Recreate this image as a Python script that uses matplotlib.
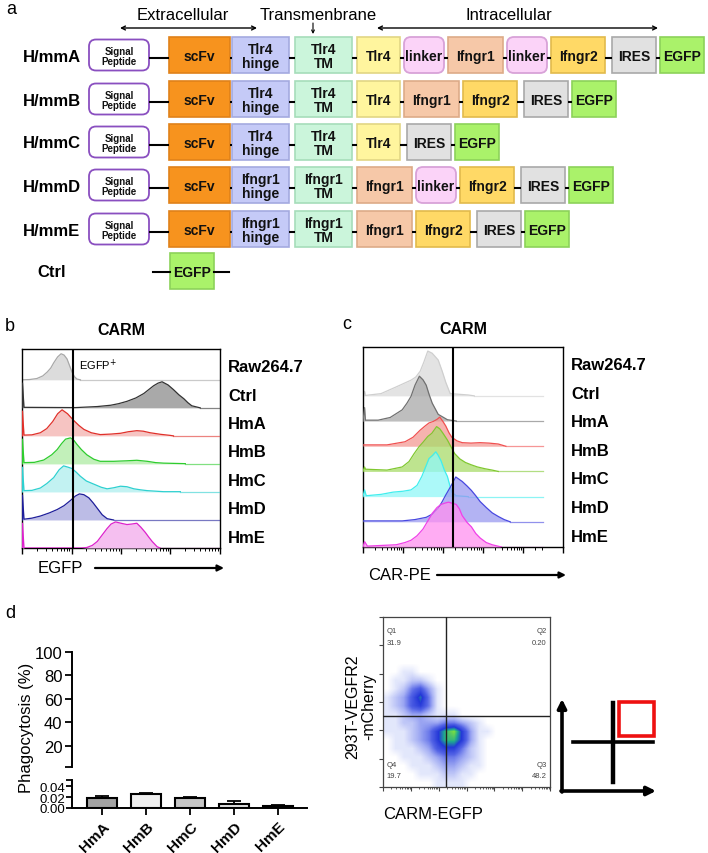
import numpy as np
import matplotlib.pyplot as plt
from matplotlib.patches import FancyBboxPatch, Rectangle
from matplotlib.colors import LinearSegmentedColormap

plt.rcParams['font.family'] = ['Liberation Sans', 'DejaVu Sans']

# ---------------- data ----------------
# panel a: construct layouts
row_names = ["H/mmA", "H/mmB", "H/mmC", "H/mmD", "H/mmE", "Ctrl"]
ext_tlr4 = ["Signal\nPeptide", "scFv", "Tlr4\nhinge", "Tlr4\nTM"]
ext_ifngr1 = ["Signal\nPeptide", "scFv", "Ifngr1\nhinge", "Ifngr1\nTM"]
intra_a = ["Tlr4", "linker", "Ifngr1", "linker", "Ifngr2", "IRES", "EGFP"]
intra_b = ["Tlr4", "Ifngr1", "Ifngr2", "IRES", "EGFP"]
intra_c = ["Tlr4", "IRES", "EGFP"]
intra_d = ["Ifngr1", "linker", "Ifngr2", "IRES", "EGFP"]
intra_e = ["Ifngr1", "Ifngr2", "IRES", "EGFP"]
ctrl_construct = ["EGFP"]

# panels b / c: histogram samples (top to bottom)
samples = ["Raw264.7", "Ctrl", "HmA", "HmB", "HmC", "HmD", "HmE"]

# EGFP histograms (x in decades, h relative to mode)
egfp_x = [
    [0.0, 0.15, 0.3, 0.42, 0.51, 0.58, 0.64, 0.72, 0.79, 0.85, 0.91, 0.96, 1.01, 1.06, 1.11, 1.18],
    [0.01, 0.01, 0.04, 1.08, 1.3, 1.52, 1.79, 1.95, 2.12, 2.3, 2.46, 2.56, 2.66, 2.75, 2.83, 2.95, 3.06, 3.17, 3.27, 3.35, 3.43, 3.6],
    [0.01, 0.01, 0.04, 0.2, 0.37, 0.5, 0.62, 0.72, 0.81, 0.92, 1.04, 1.15, 1.25, 1.4, 1.58, 1.8, 1.99, 2.15, 2.32, 2.45, 2.59, 2.8, 2.99, 3.06],
    [0.01, 0.01, 0.04, 0.25, 0.44, 0.6, 0.71, 0.8, 0.88, 0.98, 1.05, 1.11, 1.2, 1.31, 1.45, 1.58, 1.85, 2.12, 2.32, 2.53, 2.7, 2.86, 3.3],
    [0.01, 0.01, 0.04, 0.2, 0.37, 0.5, 0.64, 0.75, 0.84, 0.93, 1.01, 1.1, 1.18, 1.3, 1.45, 1.6, 1.72, 1.85, 1.99, 2.12, 2.26, 2.4, 2.53, 2.86, 3.2],
    [0.01, 0.01, 0.04, 0.2, 0.37, 0.55, 0.71, 0.85, 0.98, 1.08, 1.16, 1.25, 1.35, 1.44, 1.52, 1.62, 1.72, 1.85],
    [0.01, 0.01, 0.04, 1.2, 1.31, 1.42, 1.52, 1.62, 1.72, 1.8, 1.89, 2.0, 2.12, 2.22, 2.32, 2.4, 2.49, 2.56, 2.63, 2.73, 2.79],
]
egfp_h = [
    [0, 0.01, 0.05, 0.15, 0.3, 0.45, 0.65, 0.88, 1.0, 0.95, 0.8, 0.55, 0.3, 0.12, 0.03, 0],
    [0, 0.95, 0.02, 0.01, 0.03, 0.05, 0.1, 0.16, 0.25, 0.38, 0.55, 0.7, 0.85, 0.95, 1.0, 0.88, 0.7, 0.5, 0.35, 0.2, 0.08, 0],
    [0, 0.95, 0.03, 0.04, 0.12, 0.28, 0.55, 0.85, 1.0, 0.85, 0.6, 0.4, 0.25, 0.12, 0.05, 0.07, 0.1, 0.16, 0.2, 0.18, 0.12, 0.06, 0.02, 0],
    [0, 0.95, 0.05, 0.06, 0.15, 0.35, 0.55, 0.78, 0.95, 1.0, 0.9, 0.75, 0.55, 0.35, 0.18, 0.1, 0.1, 0.12, 0.14, 0.1, 0.05, 0.03, 0.01],
    [0, 0.95, 0.05, 0.06, 0.15, 0.32, 0.55, 0.85, 1.0, 0.95, 0.9, 0.75, 0.6, 0.42, 0.3, 0.18, 0.12, 0.16, 0.22, 0.2, 0.12, 0.08, 0.05, 0.01, 0.01],
    [0, 0.95, 0.03, 0.07, 0.15, 0.27, 0.4, 0.55, 0.75, 0.92, 1.0, 0.97, 0.85, 0.65, 0.45, 0.2, 0.05, 0],
    [0, 0.95, 0, 0, 0.02, 0.1, 0.25, 0.5, 0.75, 0.92, 1.0, 0.95, 0.9, 0.92, 0.95, 0.8, 0.6, 0.42, 0.25, 0.05, 0],
]
egfp_gate = 1.04

# CAR-PE histograms
carpe_x = [
    [0.0, 0.04, 0.06, 0.45, 0.83, 1.2, 1.32, 1.43, 1.52, 1.62, 1.73, 1.8, 1.88, 1.98, 2.07, 2.18, 2.63, 2.78],
    [0.0, 0.04, 0.06, 0.38, 0.68, 0.98, 1.1, 1.2, 1.3, 1.41, 1.5, 1.58, 1.65, 1.73, 1.88, 2.11, 2.33],
    [0.0, 0.6, 1.05, 1.25, 1.43, 1.55, 1.65, 1.75, 1.85, 1.92, 2.0, 2.07, 2.15, 2.22, 2.35, 2.48, 2.7, 2.93, 3.15, 3.38, 3.57],
    [0.0, 0.04, 0.06, 0.6, 0.98, 1.15, 1.28, 1.4, 1.5, 1.62, 1.72, 1.84, 1.92, 2.0, 2.11, 2.2, 2.29, 2.42, 2.56, 2.7, 2.86, 3.05, 3.23, 3.38],
    [0.0, 0.04, 0.08, 0.45, 0.75, 1.0, 1.2, 1.35, 1.47, 1.56, 1.65, 1.74, 1.82, 1.88, 1.95, 2.03, 2.11, 2.17, 2.22, 2.33, 2.63],
    [0.0, 0.08, 0.98, 1.3, 1.58, 1.75, 1.88, 1.98, 2.07, 2.2, 2.32, 2.4, 2.48, 2.6, 2.71, 2.82, 2.93, 3.08, 3.23, 3.38, 3.53, 3.68],
    [0.0, 0.04, 0.11, 0.83, 1.05, 1.2, 1.35, 1.5, 1.62, 1.73, 1.85, 1.95, 2.05, 2.14, 2.25, 2.33, 2.41, 2.48, 2.6, 2.71, 2.82, 2.93, 3.08, 3.23, 3.46],
]
carpe_h = [
    [0, 0.1, 0.01, 0.05, 0.2, 0.35, 0.42, 0.55, 0.75, 1.0, 0.95, 0.88, 0.8, 0.55, 0.3, 0.05, 0.02, 0],
    [0, 0.3, 0.02, 0.02, 0.08, 0.25, 0.4, 0.55, 0.8, 1.0, 0.92, 0.8, 0.6, 0.4, 0.15, 0.03, 0],
    [0.03, 0.03, 0.1, 0.2, 0.36, 0.45, 0.52, 0.55, 0.6, 0.65, 0.55, 0.45, 0.3, 0.2, 0.12, 0.08, 0.07, 0.08, 0.07, 0.05, 0],
    [0, 0.1, 0.05, 0.03, 0.1, 0.22, 0.4, 0.55, 0.65, 0.78, 0.85, 1.0, 0.95, 0.85, 0.7, 0.55, 0.4, 0.28, 0.2, 0.15, 0.1, 0.06, 0.03, 0],
    [0, 0.15, 0.02, 0.05, 0.1, 0.12, 0.15, 0.25, 0.45, 0.65, 0.85, 0.92, 1.0, 0.92, 0.8, 0.6, 0.45, 0.25, 0.1, 0.02, 0],
    [0.02, 0.02, 0.02, 0.05, 0.1, 0.18, 0.3, 0.45, 0.6, 0.8, 1.0, 0.95, 0.9, 0.8, 0.7, 0.58, 0.45, 0.32, 0.2, 0.12, 0.05, 0],
    [0, 0.12, 0.02, 0.05, 0.1, 0.15, 0.25, 0.4, 0.58, 0.75, 0.88, 0.95, 0.98, 1.0, 0.97, 0.95, 0.85, 0.7, 0.55, 0.45, 0.3, 0.2, 0.1, 0.05, 0],
]
carpe_gate = 2.26

# panel d: phagocytosis bars
bar_groups = ["HmA", "HmB", "HmC", "HmD", "HmE"]
phago_mean = [0.019, 0.026, 0.019, 0.008, 0.004]
phago_err = [0.003, 0.002, 0.001, 0.004, 0.001]

# panel d: flow density (rows top->bottom, y 0.75->0; cols x 0->0.8)
flow_density = [
    [0, 0, 0, 0, 0, 0, 0, 0, 0, 0, 0, 0, 0, 0, 0, 0],
    [0, 0, 1, 1, 0, 0, 0, 0, 0, 0, 0, 0, 0, 0, 0, 0],
    [0, 1, 1, 2, 2, 1, 0, 0, 0, 0, 0, 0, 0, 0, 0, 0],
    [0, 1, 2, 4, 5, 3, 1, 0, 0, 0, 0, 0, 0, 0, 0, 0],
    [1, 2, 3, 5, 7, 4, 1, 0, 0, 0, 0, 0, 0, 0, 0, 0],
    [1, 2, 3, 5, 6, 4, 1, 0, 0, 0, 0, 0, 0, 0, 0, 0],
    [1, 1, 2, 3, 3, 2, 1, 1, 1, 0, 0, 0, 0, 0, 0, 0],
    [1, 1, 2, 2, 3, 3, 3, 4, 4, 3, 2, 1, 0, 0, 0, 0],
    [1, 1, 1, 2, 3, 4, 6, 8, 9, 6, 3, 1, 1, 0, 0, 0],
    [0, 1, 1, 2, 3, 4, 6, 8, 8, 6, 3, 1, 0, 0, 0, 0],
    [0, 1, 1, 1, 2, 3, 5, 6, 6, 4, 2, 1, 0, 0, 0, 0],
    [0, 0, 1, 1, 1, 2, 3, 4, 4, 3, 2, 1, 0, 0, 0, 0],
    [0, 0, 0, 1, 1, 1, 2, 3, 3, 2, 1, 1, 0, 0, 0, 0],
    [0, 0, 0, 0, 1, 1, 1, 2, 2, 1, 1, 0, 0, 0, 0, 0],
    [0, 0, 0, 0, 0, 0, 1, 1, 1, 1, 0, 0, 0, 0, 0, 0],
]
gate_x, gate_y = 0.378, 0.42
quad_names = ["Q1", "Q2", "Q3", "Q4"]
quad_values = ["31.9", "0.20", "48.2", "19.7"]

# ---------------- figure ----------------
W, H = 708, 854
fig = plt.figure(figsize=(W / 100, H / 100), dpi=100)


def px_axes(x0, y0, x1, y1):
    return fig.add_axes([x0 / W, 1 - y1 / H, (x1 - x0) / W, (y1 - y0) / H])


ov = fig.add_axes([0, 0, 1, 1], zorder=10)
ov.set_xlim(0, W)
ov.set_ylim(H, 0)
ov.axis('off')

# panel letters
for letter, (lx, ly) in zip("abcd", [(6, 9), (5, 327), (342, 325), (5, 614)]):
    ov.text(lx, ly, letter, fontsize=13, va='center', ha='left')

# ---- panel a ----
ov.text(183, 16, "Extracellular", fontsize=12, ha='center', va='center')
ov.text(318, 16, "Transmenbrane", fontsize=12, ha='center', va='center')
ov.text(509, 16, "Intracellular", fontsize=12, ha='center', va='center')
arrow_kw = dict(arrowstyle='<->', lw=1.0, color='black', mutation_scale=7, shrinkA=0, shrinkB=0)
ov.annotate("", xy=(257, 29), xytext=(120, 29), arrowprops=arrow_kw)
ov.annotate("", xy=(658, 29), xytext=(377, 29), arrowprops=arrow_kw)
ov.annotate("", xy=(313, 35), xytext=(313, 24),
            arrowprops=dict(arrowstyle='->', lw=0.8, color='black', mutation_scale=5, shrinkA=0, shrinkB=0))

styles = {
    "sp": (60, 'white', '#8A4FC0', 7, True),
    "scFv": (61, '#F7931E', '#E0821A', 10, False),
    "hinge": (57, '#C5CAF7', '#A4AAE0', 10, False),
    "tm": (57, '#CBF5DB', '#A6DDBA', 10, False),
    "Tlr4": (43, '#FFF59E', '#E2D684', 10, False),
    "linker": (40, '#FBD3F8', '#D8A2D8', 10, True),
    "Ifngr1": (55, '#F6C8A8', '#DDAB88', 10, False),
    "Ifngr2": (54, '#FFD966', '#E2BA4C', 10, False),
    "IRES": (44, '#E1E1E1', '#A9A9A9', 10, False),
    "EGFP": (44, '#AAF26A', '#8CD25A', 10, False),
}


def style_key(name):
    if name.startswith("Signal"):
        return "sp"
    if "hinge" in name:
        return "hinge"
    if "TM" in name:
        return "tm"
    return name


gap_after = {"sp": 20, "scFv": 2, "hinge": 6, "tm": 5}
constructs = [ext_tlr4 + intra_a, ext_tlr4 + intra_b, ext_tlr4 + intra_c,
              ext_ifngr1 + intra_d, ext_ifngr1 + intra_e, ctrl_construct]
row_y = [56, 100, 143, 186, 230, 272]

for name, parts, yc in zip(row_names, constructs, row_y):
    ov.text(52, yc + 1, name, fontsize=12, fontweight='bold', ha='center', va='center')
    x = 89 if len(parts) > 1 else 170
    prev_end = None
    for p in parts:
        key = style_key(p)
        w, fc, ec, fs, rounded = styles[key]
        if prev_end is not None:
            if p == "IRES":
                x += 3
            ov.plot([prev_end, x], [yc + 3, yc + 3], color='black', lw=1.5, solid_capstyle='butt')
        h = 31 if key == "sp" else 36
        if rounded:
            patch = FancyBboxPatch((x, yc - h / 2), w, h, boxstyle="round,pad=0,rounding_size=7",
                                   fc=fc, ec=ec, lw=1.3)
        else:
            patch = Rectangle((x, yc - h / 2), w, h, fc=fc, ec=ec, lw=1.2)
        ov.add_patch(patch)
        ov.text(x + w / 2, yc + 1, p, fontsize=fs, fontweight='bold', ha='center', va='center',
                linespacing=1.0, color='#111111')
        prev_end = x + w
        x = prev_end + gap_after.get(key, 4)
    if len(parts) == 1:
        ov.plot([153, 170], [yc + 1, yc + 1], color='black', lw=1.5)
        ov.plot([214, 229], [yc + 1, yc + 1], color='black', lw=1.5)

# ---- panels b and c ----
b_line = ['#A8A8A8', '#333333', '#E0302A', '#2ECC2E', '#2ED0D0', '#1E1E9A', '#DD22CC']
b_fill = ['#DCDCDC', '#A9A9A9', '#F6C4C2', '#C2F0BA', '#C2F2F2', '#BCBCE6', '#F5BFF0']
c_line = ['#CFCFCF', '#707070', '#F05050', '#80C830', '#40EEEE', '#4848E0', '#F040E8']
c_fill = ['#DADADA', '#A8A8A8', '#F49A95', '#A8DC6A', '#90F8F8', '#9A9AF0', '#FF90F0']


def log_minor(n_dec):
    return [k + np.log10(m) for k in range(n_dec) for m in range(2, 10)]


def ridge(ax, xs, hs, lines, fills, xmax, ytop, scale, alpha, gate, n_dec):
    n = len(xs)
    for i in range(n):
        base = n - 1 - i
        x = np.array(xs[i])
        y = base + np.array(hs[i]) * scale
        ax.fill_between(x, base, y, color=fills[i], alpha=alpha, lw=0, zorder=2 + i)
        ax.plot(x, y, color=lines[i], lw=0.9, zorder=2 + i)
        ax.plot([x[-1], xmax], [base, base], color=lines[i], lw=0.9, alpha=0.6, zorder=2 + i)
    ax.axvline(gate, color='black', lw=1.5, zorder=20)
    ax.set_xlim(0, xmax)
    ax.set_ylim(0, ytop)
    ax.set_yticks([])
    ax.set_xticks(range(n_dec + 1))
    ax.set_xticks([v for v in log_minor(n_dec) if v < xmax], minor=True)
    ax.set_xticklabels([])
    ax.tick_params(axis='x', which='major', length=4, width=1.0, direction='out')
    ax.tick_params(axis='x', which='minor', length=2, width=0.7, direction='out')
    for s in ax.spines.values():
        s.set_linewidth(1.0)
    for i, s in enumerate(samples):
        ax.text(1.04, 1 - (i + 0.62) / 7, s, transform=ax.transAxes, fontsize=12,
                fontweight='bold', ha='left', va='center')


ax_b = px_axes(22, 350, 220, 549)
ridge(ax_b, egfp_x, egfp_h, b_line, b_fill, 4.0, 7.1, 0.93, 1.0, egfp_gate, 4)
ax_b.text(egfp_gate + 0.12, 6.55, "EGFP$^{+}$", fontsize=8, ha='left', va='center')
ov.text(121, 331, "CARM", fontsize=11.5, fontweight='bold', ha='center', va='center')
ov.text(60, 569, "EGFP", fontsize=12, ha='center', va='center')
ov.annotate("", xy=(224, 569), xytext=(95, 569),
            arrowprops=dict(arrowstyle='-|>', lw=1.6, color='black', mutation_scale=9, shrinkA=0, shrinkB=0))

ax_c = px_axes(363, 348, 563, 548)
ridge(ax_c, carpe_x, carpe_h, c_line, c_fill, 4.5, 7.94, 1.78, 0.75, carpe_gate, 5)
ov.text(463, 330, "CARM", fontsize=11.5, fontweight='bold', ha='center', va='center')
ov.text(400, 576, "CAR-PE", fontsize=12, ha='center', va='center')
ov.annotate("", xy=(566, 576), xytext=(437, 576),
            arrowprops=dict(arrowstyle='-|>', lw=1.6, color='black', mutation_scale=9, shrinkA=0, shrinkB=0))

# ---- panel d: bar chart with broken axis ----
pos = np.arange(len(bar_groups))
bar_colors = ['#A3A3A3', '#EFEFEF', '#C6C6C6', '#E3E3E3', '#3C3C3C']

ax_top = px_axes(72, 653, 307, 768)
ax_top.set_ylim(2.1, 100)
ax_top.set_xlim(-0.68, 4.66)
ax_top.set_yticks([2.1, 20, 40, 60, 80, 100])
ax_top.set_yticklabels(['', '20', '40', '60', '80', '100'], fontsize=12)
ax_top.set_xticks([])
for s in ['top', 'right', 'bottom']:
    ax_top.spines[s].set_visible(False)
ax_top.spines['left'].set_linewidth(1.4)
ax_top.tick_params(axis='y', length=5, width=1.3, pad=2)
ax_top.patch.set_alpha(0)

ax_bot = px_axes(72, 781, 307, 809)
ax_bot.bar(pos, phago_mean, width=0.68, color=bar_colors, edgecolor='black', lw=1.5, zorder=3)
ax_bot.errorbar(pos, phago_mean, yerr=[[0] * len(pos), phago_err], fmt='none', ecolor='black',
                capsize=5, elinewidth=1.3, capthick=1.3, zorder=4)
ax_bot.set_ylim(0, 0.051)
ax_bot.set_xlim(-0.68, 4.66)
ax_bot.set_yticks([0, 0.02, 0.04, 0.051])
ax_bot.set_yticklabels(['0.00', '0.02', '0.04', ''], fontsize=9.5)
ax_bot.set_xticks(pos)
ax_bot.set_xticklabels(bar_groups, rotation=45, ha='right', rotation_mode='anchor',
                       fontsize=11, fontweight='bold')
for s in ['top', 'right']:
    ax_bot.spines[s].set_visible(False)
ax_bot.spines['left'].set_linewidth(1.4)
ax_bot.spines['bottom'].set_linewidth(1.4)
ax_bot.tick_params(axis='y', length=4, width=1.3, pad=1)
ax_bot.tick_params(axis='x', length=5, width=1.3, pad=3)
ax_bot.patch.set_alpha(0)
ov.text(27, 728, "Phagocytosis (%)", fontsize=12, rotation=90, ha='center', va='center')

# ---- panel d: flow plot ----
ax_f = px_axes(383, 618, 550, 788)
cmap = LinearSegmentedColormap.from_list(
    "flow", [(0, 'white'), (0.1, '#E6EAFC'), (0.3, '#A6B0F4'), (0.5, '#5565E6'),
             (0.7, '#2438D8'), (0.85, '#1FA890'), (1.0, '#7CE040')])
ax_f.imshow(np.array(flow_density), extent=(0, 0.8, 0, 0.75), origin='upper', cmap=cmap,
            vmin=0, vmax=9, interpolation='bilinear', aspect='auto', zorder=1)
ax_f.set_xlim(0, 1)
ax_f.set_ylim(0, 1)
ax_f.axvline(gate_x, color='#222222', lw=1.0, zorder=3)
ax_f.axhline(gate_y, color='#222222', lw=1.0, zorder=3)
ax_f.set_xticks(np.linspace(0, 1, 7))
ax_f.set_xticks([v / 6 for v in log_minor(6)], minor=True)
ax_f.set_yticks(np.linspace(0, 1, 7))
ax_f.set_xticklabels([])
ax_f.set_yticklabels([])
ax_f.tick_params(which='major', length=3, width=0.8, color='#444444')
ax_f.tick_params(which='minor', length=1.5, width=0.6, color='#444444')
for s in ax_f.spines.values():
    s.set_linewidth(0.9)
    s.set_color('#444444')
q_pos = [(0.02, 0.92, 'left'), (0.98, 0.92, 'right'), (0.98, 0.135, 'right'), (0.02, 0.135, 'left')]
for (qx, qy, ha), qn, qv in zip(q_pos, quad_names, quad_values):
    ax_f.text(qx, qy, qn, fontsize=5.5, color='#444444', ha=ha, va='center')
    ax_f.text(qx, qy - 0.07, qv, fontsize=5.5, color='#444444', ha=ha, va='center')
ov.text(361, 707, "293T-VEGFR2\n-mCherry", fontsize=11.5, rotation=90, ha='center', va='center',
        multialignment='center', linespacing=1.1)
ov.text(383, 815, "CARM-EGFP", fontsize=12, ha='left', va='center')

# quadrant key
key_kw = dict(arrowstyle='-|>', lw=2.6, color='black', mutation_scale=13, shrinkA=0, shrinkB=0)
ov.annotate("", xy=(562, 700), xytext=(562, 793), arrowprops=key_kw)
ov.annotate("", xy=(656, 792), xytext=(561, 792), arrowprops=key_kw)
ov.plot([613, 613], [704, 783], color='black', lw=3.2)
ov.plot([573, 653], [743, 743], color='black', lw=2.6)
ov.add_patch(Rectangle((619, 703), 35, 34, fill=False, ec='#EE1111', lw=2.6))

plt.savefig("out.png", dpi=100)
